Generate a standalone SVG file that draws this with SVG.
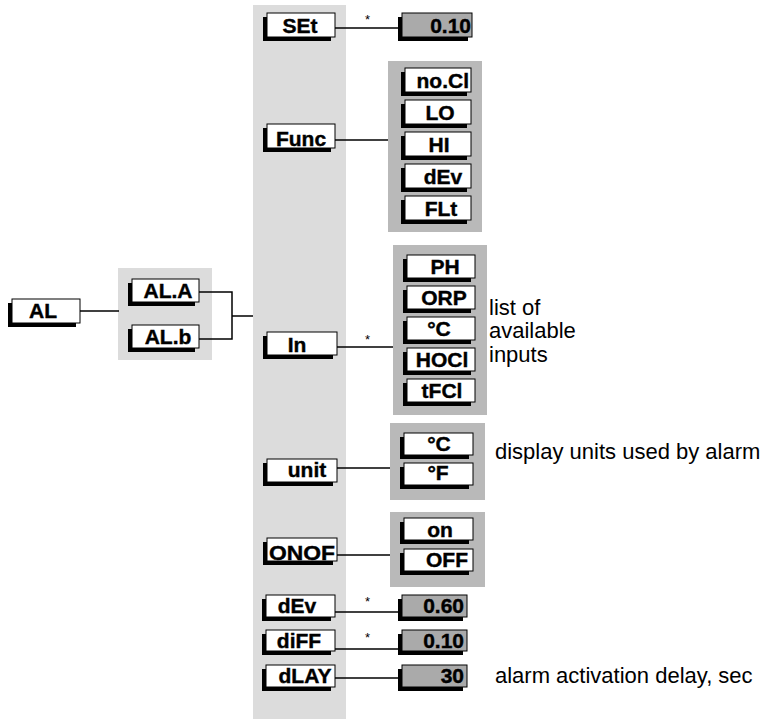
<svg xmlns="http://www.w3.org/2000/svg" width="760" height="719" viewBox="0 0 760 719">
<style>
.bg{fill:#ffffff}
.col{fill:#dcdcdc}
.pnl{fill:#b9b9b9}
.sh{fill:#000000}
.bx{fill:#ffffff;stroke:#000000;stroke-width:1}
.vb{fill:#aaaaaa;stroke:#000000;stroke-width:1}
.l{font-family:"Liberation Sans",Arial,sans-serif;font-weight:bold;font-size:21px;fill:#000;stroke:#000;stroke-width:0.4}
.n{font-family:"Liberation Sans",Arial,sans-serif;font-size:22px;fill:#000}
.s{font-family:"Liberation Sans",Arial,sans-serif;font-size:13px;fill:#000}
.c{fill:none;stroke:#000;stroke-width:1.5}
.m{text-anchor:middle}
.e{text-anchor:end}
</style>
<rect class="bg" x="0" y="0" width="760" height="719"/>
<g id="panels">
<rect class="col" x="253" y="5" width="93" height="714"/>
<rect class="col" x="118" y="268" width="94" height="92"/>
<rect class="pnl" x="388" y="61" width="94" height="171"/>
<rect class="pnl" x="393" y="245" width="94" height="170"/>
<rect class="pnl" x="390" y="423" width="95" height="77"/>
<rect class="pnl" x="390" y="512" width="95" height="75"/>
</g>
<g id="connectors">
<path class="c" d="M80 311H119"/>
<path class="c" d="M199 292H232V339H199M232 316H253"/>
<path class="c" d="M335 28H398"/>
<path class="c" d="M335 140H388"/>
<path class="c" d="M337 347H393"/>
<path class="c" d="M337 468H390"/>
<path class="c" d="M337 555H390"/>
<path class="c" d="M335 612H398"/>
<path class="c" d="M335 649H398"/>
<path class="c" d="M335 678H398"/>
<text class="s" x="365" y="24">*</text>
<text class="s" x="365" y="344">*</text>
<text class="s" x="365" y="606">*</text>
<text class="s" x="365" y="642">*</text>
</g>
<g id="AL"><rect class="sh" x="8" y="303" width="68" height="24"/><rect class="bx" x="12" y="299" width="68" height="24"/><text class="l m" x="43" y="318">AL</text></g>
<g id="AL.A"><rect class="sh" x="128" y="283" width="67" height="23"/><rect class="bx" x="132" y="279" width="67" height="23"/><text class="l m" x="168" y="298">AL.A</text></g>
<g id="AL.b"><rect class="sh" x="128" y="329" width="67" height="23"/><rect class="bx" x="132" y="325" width="67" height="23"/><text class="l m" x="168" y="344">AL.b</text></g>

<g id="SEt"><rect class="sh" x="263" y="17" width="68" height="24"/><rect class="bx" x="267" y="13" width="68" height="24"/><text class="l m" x="300" y="33">SEt</text></g>
<g id="SEt-val"><rect class="sh" x="398" y="17" width="70" height="24"/><rect class="vb" x="402" y="13" width="70" height="24"/><text class="l e" x="471" y="33">0.10</text></g>

<g id="Func"><rect class="sh" x="263" y="128" width="68" height="24"/><rect class="bx" x="267" y="124" width="68" height="24"/><text class="l m" x="301" y="146">Func</text></g>
<g id="Func-noCl"><rect class="sh" x="401" y="72" width="66" height="24"/><rect class="bx" x="405" y="68" width="66" height="24"/><text class="l e" x="469" y="88">no.Cl</text></g>
<g id="Func-LO"><rect class="sh" x="401" y="104" width="66" height="24"/><rect class="bx" x="405" y="100" width="66" height="24"/><text class="l m" x="440" y="120">LO</text></g>
<g id="Func-HI"><rect class="sh" x="401" y="136" width="66" height="24"/><rect class="bx" x="405" y="132" width="66" height="24"/><text class="l m" x="439" y="152">HI</text></g>
<g id="Func-dEv"><rect class="sh" x="401" y="168" width="66" height="24"/><rect class="bx" x="405" y="164" width="66" height="24"/><text class="l m" x="443" y="184">dEv</text></g>
<g id="Func-FLt"><rect class="sh" x="401" y="200" width="66" height="24"/><rect class="bx" x="405" y="196" width="66" height="24"/><text class="l m" x="441" y="216">FLt</text></g>

<g id="In"><rect class="sh" x="263" y="336" width="70" height="23"/><rect class="bx" x="267" y="332" width="70" height="23"/><text class="l m" x="297" y="352">In</text></g>
<g id="In-PH"><rect class="sh" x="403" y="259" width="68" height="23"/><rect class="bx" x="407" y="255" width="68" height="23"/><text class="l m" x="445" y="274">PH</text></g>
<g id="In-ORP"><rect class="sh" x="403" y="290" width="68" height="23"/><rect class="bx" x="407" y="286" width="68" height="23"/><text class="l m" x="444" y="305">ORP</text></g>
<g id="In-C"><rect class="sh" x="403" y="321" width="68" height="23"/><rect class="bx" x="407" y="317" width="68" height="23"/><text class="l m" x="439" y="336">°C</text></g>
<g id="In-HOCl"><rect class="sh" x="403" y="352" width="68" height="23"/><rect class="bx" x="407" y="348" width="68" height="23"/><text class="l m" x="442" y="367">HOCl</text></g>
<g id="In-tFCl"><rect class="sh" x="403" y="383" width="68" height="23"/><rect class="bx" x="407" y="379" width="68" height="23"/><text class="l m" x="442" y="398">tFCl</text></g>
<g id="note-inputs">
<text class="n" x="489" y="315">list of</text>
<text class="n" x="489" y="338">available</text>
<text class="n" x="489" y="362">inputs</text>
</g>

<g id="unit"><rect class="sh" x="263" y="463" width="70" height="23"/><rect class="bx" x="267" y="459" width="70" height="23"/><text class="l m" x="307" y="477">unit</text></g>
<g id="unit-C"><rect class="sh" x="400" y="437" width="69" height="22"/><rect class="bx" x="404" y="433" width="69" height="22"/><text class="l m" x="439" y="451">°C</text></g>
<g id="unit-F"><rect class="sh" x="400" y="467" width="69" height="22"/><rect class="bx" x="404" y="463" width="69" height="22"/><text class="l m" x="438" y="480">°F</text></g>
<text id="note-units" class="n" x="495" y="459">display units used by alarm</text>

<g id="ONOF"><rect class="sh" x="263" y="542" width="70" height="23"/><rect class="bx" x="267" y="538" width="70" height="23"/><text class="l m" x="302" y="560" textLength="66" lengthAdjust="spacingAndGlyphs">ONOF</text></g>
<g id="ONOF-on"><rect class="sh" x="400" y="522" width="69" height="22"/><rect class="bx" x="404" y="518" width="69" height="22"/><text class="l m" x="440" y="537">on</text></g>
<g id="ONOF-OFF"><rect class="sh" x="400" y="553" width="69" height="22"/><rect class="bx" x="404" y="549" width="69" height="22"/><text class="l m" x="447" y="567">OFF</text></g>

<g id="dEv"><rect class="sh" x="262" y="599" width="69" height="22"/><rect class="bx" x="266" y="595" width="69" height="22"/><text class="l m" x="297" y="613">dEv</text></g>
<g id="dEv-val"><rect class="sh" x="398" y="599" width="65" height="22"/><rect class="vb" x="402" y="595" width="65" height="22"/><text class="l e" x="464" y="613">0.60</text></g>
<g id="diFF"><rect class="sh" x="262" y="634" width="69" height="21"/><rect class="bx" x="266" y="630" width="69" height="21"/><text class="l m" x="299" y="648">diFF</text></g>
<g id="diFF-val"><rect class="sh" x="398" y="634" width="65" height="21"/><rect class="vb" x="402" y="630" width="65" height="21"/><text class="l e" x="464" y="648">0.10</text></g>
<g id="dLAY"><rect class="sh" x="262" y="669" width="69" height="22"/><rect class="bx" x="266" y="665" width="69" height="22"/><text class="l m" x="305" y="683">dLAY</text></g>
<g id="dLAY-val"><rect class="sh" x="398" y="669" width="65" height="22"/><rect class="vb" x="402" y="665" width="65" height="22"/><text class="l e" x="464" y="683">30</text></g>
<text id="note-delay" class="n" x="495" y="683">alarm activation delay, sec</text>
</svg>
